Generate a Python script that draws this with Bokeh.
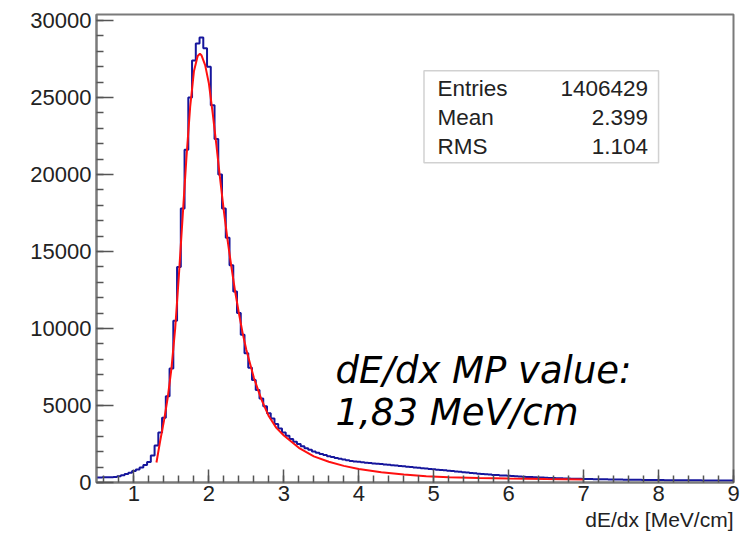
import numpy as np
from bokeh.plotting import figure
from bokeh.models import Range1d, SingleIntervalTicker, Label, BoxAnnotation, Title
from bokeh.embed import file_html
from bokeh.resources import INLINE

# ---------------- data ----------------
bin_start = 0.475
bin_width = 0.05
counts = [
    330, 330, 335, 340, 345, 360, 400, 470, 550, 640,
    740, 850, 980, 1130, 1330, 1750, 2400, 3250, 4200, 5600,
    7400, 10500, 14000, 17800, 21600, 25000, 27400, 28500, 28900, 28200,
    27000, 24500, 22300, 20000, 17800, 15900, 14100, 12400, 11000, 9600,
    8400, 7450, 6650, 6000, 5450, 4950, 4500, 4150, 3800, 3500,
    3250, 3030, 2830, 2650, 2500, 2360, 2230, 2120, 2020, 1930,
    1850, 1780, 1710, 1650, 1590, 1540, 1490, 1440, 1400, 1370,
    1340, 1310, 1290, 1260, 1240, 1220, 1200, 1175, 1150, 1125,
    1100, 1075, 1050, 1025, 1000, 980, 955, 930, 905, 880,
    860, 835, 810, 790, 770, 745, 720, 695, 670, 645,
    620, 600, 575, 555, 535, 515, 495, 480, 462, 448,
    432, 418, 404, 390, 377, 364, 352, 340, 330, 320,
    310, 300, 291, 282, 273, 265, 258, 251, 245, 240,
    234, 228, 222, 217, 212, 207, 203, 199, 195, 191,
    187, 184, 181, 178, 175, 172, 169, 166, 163, 160,
    158, 156, 154, 152, 150, 148, 146, 144, 142, 140,
    139, 138, 137, 136, 135, 134, 133, 132, 131, 130,
    130,
]

fit_x = [1.30, 1.35, 1.40, 1.45, 1.50, 1.55, 1.60, 1.65, 1.70, 1.75,
         1.80, 1.85, 1.88, 1.90, 1.95, 2.00, 2.05, 2.10, 2.15, 2.20,
         2.25, 2.30, 2.35, 2.40, 2.45, 2.50, 2.60, 2.70, 2.80, 2.90,
         3.00, 3.20, 3.40, 3.60, 3.80, 4.00, 4.30, 4.60, 4.90, 5.20,
         5.60, 6.00, 6.50, 7.00]
fit_y = [1300, 2700, 4000, 5500, 7400, 10000, 13500, 17300, 21100, 24400,
         26700, 27700, 27840, 27750, 27100, 25900, 24000, 21900, 19700, 17600,
         15700, 14000, 12400, 11000, 9700, 8600, 6800, 5400, 4300, 3550,
         3050, 2250, 1700, 1350, 1080, 880, 670, 520, 410, 340,
         295, 260, 225, 200]

stats_names = ["Entries", "Mean", "RMS"]
stats_values = ["1406429", "2.399", "1.104"]

x_title = "dE/dx [MeV/cm]"
note_lines = ["dE/dx MP value:", "1,83 MeV/cm"]

# ---------------- figure ----------------
p = figure(width=744, height=536, output_backend="svg", toolbar_location=None,
           x_range=Range1d(0.5, 9.0), y_range=Range1d(0, 30390),
           background_fill_color="white", border_fill_color="white")
p.min_border_left = 96
p.min_border_right = 11
p.min_border_top = 14
p.min_border_bottom = 54

p.grid.visible = False
p.outline_line_color = "#7a7a7a"
p.outline_line_width = 2

font = "Liberation Sans"
for ax in (p.xaxis[0], p.yaxis[0]):
    ax.axis_line_color = "#7a7a7a"
    ax.axis_line_width = 2
    ax.major_tick_line_color = "#555555"
    ax.minor_tick_line_color = "#555555"
    ax.major_tick_line_width = 1.5
    ax.minor_tick_line_width = 1.5
    ax.major_tick_out = 0
    ax.minor_tick_out = 0
    ax.minor_tick_in = 7
    ax.major_label_text_font = font
    ax.major_label_text_font_size = "22px"
    ax.major_label_text_color = "#222222"

p.xaxis[0].ticker = SingleIntervalTicker(interval=1, num_minor_ticks=5)
p.yaxis[0].ticker = SingleIntervalTicker(interval=5000, num_minor_ticks=5)
p.xaxis[0].major_tick_in = 13
p.yaxis[0].major_tick_in = 17
p.xaxis[0].major_label_standoff = 3
p.yaxis[0].major_label_standoff = 5

# histogram
edges = bin_start + bin_width * np.arange(len(counts) + 1)
p.step(edges, list(counts) + [counts[-1]], mode="after",
       line_color="#16169c", line_width=2)

# fit curve
p.line(fit_x, fit_y, line_color="#ff1010", line_width=2)

# stats box
p.add_layout(BoxAnnotation(left=4.87, right=8.0, bottom=20770, top=26740,
                           fill_color="white", fill_alpha=1.0,
                           line_color="#666666", line_width=1.5))
row_y = [25570, 23690, 21810]
for name, val, yy in zip(stats_names, stats_values, row_y):
    p.add_layout(Label(x=5.05, y=yy, text=name, text_font=font,
                       text_font_size="22.5px", text_color="#222222",
                       text_baseline="middle", text_align="left"))
    p.add_layout(Label(x=7.86, y=yy, text=val, text_font=font,
                       text_font_size="22.5px", text_color="#222222",
                       text_baseline="middle", text_align="right"))

# note
for txt, yy in zip(note_lines, [7270, 4540]):
    p.add_layout(Label(x=3.69, y=yy, text=txt, text_font="DejaVu Sans",
                       text_font_style="italic", text_font_size="37px",
                       text_color="black", text_baseline="middle",
                       text_align="left"))

# x title right-aligned at the axis end
p.add_layout(Title(text=x_title, align="right", text_font=font,
                   text_font_size="21px", text_font_style="normal",
                   text_color="#222222", standoff=5, offset=0), "below")

open("out.html", "w").write(file_html(p, INLINE))
